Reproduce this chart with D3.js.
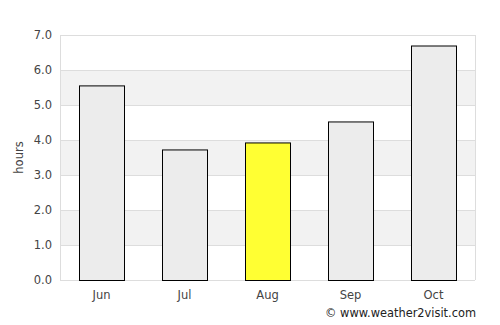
<!DOCTYPE html>
<html><head><meta charset="utf-8">
<script src="https://cdn.jsdelivr.net/npm/d3@7"></script>
<style>body{margin:0;background:#fff}svg{display:block;font-family:"DejaVu Sans",sans-serif}</style>
</head><body>
<script>
const months = ["Jun","Jul","Aug","Sep","Oct"];
const hours = [5.56, 3.73, 3.93, 4.53, 6.7];
const highlight = ["Aug"];
const yTicks = [0,1,2,3,4,5,6,7];

const W=500,H=325;
const m={l:60,r:25,t:35,b:45};
const svg=d3.select("body").append("svg").attr("width",W).attr("height",H);
const x=d3.scaleBand().domain(months).range([m.l,W-m.r]).paddingInner(0.458).paddingOuter(0.229);
const y=d3.scaleLinear().domain([0,7]).range([H-m.b,m.t]);

// bands
for(let i=1;i<7;i+=2){
  svg.append("rect").attr("x",m.l).attr("width",W-m.r-m.l)
    .attr("y",y(i+1)).attr("height",y(i)-y(i+1)).attr("fill","#f2f2f2");
}
// grid
svg.append("g").selectAll("line").data(yTicks).join("line")
  .attr("x1",m.l).attr("x2",W-m.r).attr("y1",d=>y(d)+0.5).attr("y2",d=>y(d)+0.5)
  .attr("stroke","#dddddd");
svg.append("line").attr("x1",m.l+0.5).attr("x2",m.l+0.5).attr("y1",m.t).attr("y2",H-m.b).attr("stroke","#dddddd");
svg.append("line").attr("x1",W-m.r+0.5).attr("x2",W-m.r+0.5).attr("y1",m.t).attr("y2",H-m.b).attr("stroke","#dddddd");

// bars
svg.append("g").selectAll("rect").data(months).join("rect")
  .attr("x",d=>Math.round(x(d))+0.5).attr("width",Math.round(x.bandwidth()))
  .attr("y",(d,i)=>y(hours[i])+0.5).attr("height",(d,i)=>y(0)-y(hours[i]))
  .attr("fill",d=>highlight.includes(d)?"#ffff33":"#ececec")
  .attr("stroke","#000").attr("stroke-width",1);

// y axis
const ya=svg.append("g").attr("transform",`translate(${m.l},0)`)
  .call(d3.axisLeft(y).tickValues(yTicks).tickFormat(d3.format(".1f")).tickSize(0).tickPadding(8));
ya.select(".domain").remove();
ya.selectAll("text").attr("font-size",11.5).attr("fill","#444").attr("font-family","DejaVu Sans");

// x axis
const xa=svg.append("g").attr("transform",`translate(0,${H-m.b})`)
  .call(d3.axisBottom(x).tickSize(0).tickPadding(10));
xa.select(".domain").remove();
xa.selectAll("text").attr("font-size",11.5).attr("fill","#444").attr("font-family","DejaVu Sans").attr("dy","0.8em");

svg.append("text").attr("transform",`translate(23,${y(3.5)}) rotate(-90)`)
  .attr("text-anchor","middle").attr("font-size",11.5).attr("fill","#444").text("hours");

svg.append("text").attr("x",W-24).attr("y",317).attr("text-anchor","end")
  .attr("font-size",11.4).attr("fill","#222").text("© www.weather2visit.com");
</script>
</body></html>
